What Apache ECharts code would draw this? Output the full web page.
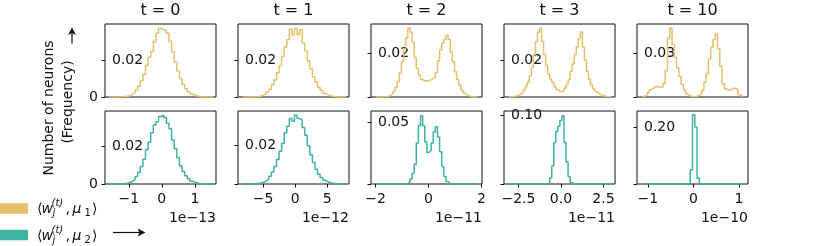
<!DOCTYPE html>
<html>
<head>
<meta charset="utf-8">
<script src="https://cdn.jsdelivr.net/npm/echarts@6/dist/echarts.min.js"></script>
<style>html,body{margin:0;padding:0;background:#fff;}#chart{width:830px;height:246px;}</style>
</head>
<body>
<div id="chart"></div>
<script>
// ---------------- data ----------------
const columnTitles = ['t = 0', 't = 1', 't = 2', 't = 3', 't = 10'];
const xExponent = ['1e\u221213', '1e\u221212', '1e\u221211', '1e\u221211', '1e\u221210'];
const xTickValues = [[-1, 0, 1], [-5, 0, 5], [-2, 0, 2], [-2.5, 0, 2.5], [-1, 0, 1]];
const xTickLabels = [['\u22121', '0', '1'], ['\u22125', '0', '5'], ['\u22122', '0', '2'], ['\u22122.5', '0.0', '2.5'], ['\u22121', '0', '1']];
const xMin = [-1.72, -8.9, -2.17, -3.35, -1.24];
const xMax = [1.64, 8.4, 2.02, 3.18, 1.2];
const binStart = [-1.6, -8.1, -1.98, -3.06, -1.12];
const binWidth = [0.079, 0.4, 0.08, 0.12, 0.05];
const topYMax = [0.0395, 0.0395, 0.0332, 0.0395, 0.0498];
const topYTick = [0.02, 0.02, 0.02, 0.02, 0.03];
const bottomYMax = [0.0384, 0.0374, 0.0589, 0.1058, 0.256];
const bottomYTick = [0.02, 0.02, 0.05, 0.10, 0.20];

// <w_j^(t), mu_1> histograms (frequency per bin)
const mu1_t0 = [0, 0, 0, 0.00005, 0.0001, 0.0002, 0.0004, 0.0007, 0.0013, 0.0023, 0.0038, 0.0058, 0.0088, 0.0122, 0.0170, 0.0215, 0.0245, 0.0300, 0.0345, 0.0370, 0.0365, 0.0358, 0.0345, 0.0300, 0.0245, 0.0190, 0.0140, 0.0100, 0.0068, 0.0044, 0.0028, 0.0016, 0.0009, 0.0005, 0.0002, 0.0001, 0.00005, 0, 0, 0];
const mu1_t1 = [0, 0, 0.00005, 0.0001, 0.00015, 0.0003, 0.0005, 0.0010, 0.0016, 0.0028, 0.0042, 0.0066, 0.0092, 0.0131, 0.0170, 0.0220, 0.0270, 0.0310, 0.0368, 0.0335, 0.0372, 0.0338, 0.0365, 0.0292, 0.0250, 0.0195, 0.0152, 0.0108, 0.0081, 0.0052, 0.0036, 0.0020, 0.0013, 0.0007, 0.0004, 0.0002, 0.0001, 0.00005, 0, 0];
const mu1_t2 = [0, 0, 0.00005, 0.0001, 0.0002, 0.0004, 0.0008, 0.0015, 0.0026, 0.0044, 0.0070, 0.0110, 0.0160, 0.0220, 0.0268, 0.0314, 0.0296, 0.0250, 0.0180, 0.0130, 0.0098, 0.0080, 0.0072, 0.0075, 0.0074, 0.0078, 0.0084, 0.0090, 0.0110, 0.0165, 0.0215, 0.0245, 0.0262, 0.0281, 0.0262, 0.0205, 0.0160, 0.0115, 0.0080, 0.0055, 0.0032, 0.0018, 0.0010, 0.0005, 0.0002, 0.0001, 0.00005, 0];
const mu1_t3 = [0.0001, 0.0002, 0.0003, 0.0006, 0.0010, 0.0017, 0.0025, 0.0038, 0.0058, 0.0080, 0.0115, 0.0160, 0.0230, 0.0300, 0.0350, 0.0373, 0.0300, 0.0230, 0.0170, 0.0125, 0.0098, 0.0078, 0.0055, 0.0040, 0.0032, 0.0028, 0.0034, 0.0048, 0.0068, 0.0095, 0.0140, 0.0180, 0.0230, 0.0272, 0.0315, 0.0352, 0.0270, 0.0200, 0.0140, 0.0095, 0.0065, 0.0045, 0.0030, 0.0020, 0.0013, 0.0008, 0.0005, 0.0003, 0.0001, 0.0001];
const mu1_t10 = [0.0005, 0.0012, 0.0030, 0.0050, 0.0063, 0.0072, 0.0070, 0.0064, 0.0068, 0.0090, 0.0180, 0.0400, 0.0470, 0.0360, 0.0270, 0.0200, 0.0140, 0.0085, 0.0050, 0.0020, 0.0008, 0.0003, 0.0002, 0.0005, 0.0012, 0.0022, 0.0045, 0.0100, 0.0160, 0.0260, 0.0340, 0.0390, 0.0430, 0.0330, 0.0210, 0.0090, 0.0055, 0.0046, 0.0050, 0.0058, 0.0060, 0.0052, 0.0015, 0.0003];

// <w_j^(t), mu_2> histograms
const mu2_t0 = [0, 0, 0, 0.00005, 0.0001, 0.0002, 0.0004, 0.0008, 0.0014, 0.0024, 0.0040, 0.0062, 0.0092, 0.0130, 0.0180, 0.0220, 0.0270, 0.0310, 0.0328, 0.0355, 0.0363, 0.0350, 0.0320, 0.0290, 0.0232, 0.0185, 0.0138, 0.0096, 0.0066, 0.0043, 0.0027, 0.0015, 0.0009, 0.0005, 0.0002, 0.0001, 0.00005, 0, 0, 0];
const mu2_t1 = [0, 0.00005, 0.00005, 0.0001, 0.0002, 0.0003, 0.0005, 0.0009, 0.0015, 0.0025, 0.0040, 0.0062, 0.0090, 0.0125, 0.0168, 0.0208, 0.0262, 0.0296, 0.0335, 0.0322, 0.0354, 0.0336, 0.0328, 0.0290, 0.0250, 0.0196, 0.0150, 0.0110, 0.0076, 0.0050, 0.0033, 0.0020, 0.0012, 0.0007, 0.0004, 0.0002, 0.0001, 0.00005, 0, 0];
const mu2_t2 = [0, 0, 0, 0, 0, 0, 0, 0, 0, 0, 0, 0, 0.00005, 0.0001, 0.0004, 0.0015, 0.0040, 0.0085, 0.0160, 0.0330, 0.0470, 0.0551, 0.0470, 0.0340, 0.0255, 0.0270, 0.0330, 0.0420, 0.0462, 0.0380, 0.0260, 0.0140, 0.0060, 0.0020, 0.0006, 0.0002, 0.00005, 0, 0, 0, 0, 0, 0, 0, 0, 0, 0, 0];
const mu2_t3 = [0, 0, 0, 0, 0, 0, 0, 0, 0, 0, 0, 0, 0, 0, 0, 0, 0, 0, 0, 0.0020, 0.0090, 0.0260, 0.0600, 0.0760, 0.0840, 0.0920, 0.0990, 0.0600, 0.0320, 0.0110, 0.0020, 0.0002, 0, 0, 0, 0, 0, 0, 0, 0, 0, 0, 0, 0, 0, 0, 0, 0, 0, 0];
const mu2_t10 = [0, 0, 0, 0, 0, 0, 0, 0, 0, 0, 0, 0, 0, 0, 0, 0, 0, 0, 0, 0, 0, 0.0500, 0.2430, 0.2000, 0.0200, 0, 0, 0, 0, 0, 0, 0, 0, 0, 0, 0, 0, 0, 0, 0, 0, 0, 0, 0];

const mu1Hists = [mu1_t0, mu1_t1, mu1_t2, mu1_t3, mu1_t10];
const mu2Hists = [mu2_t0, mu2_t1, mu2_t2, mu2_t3, mu2_t10];

// ---------------- layout / style ----------------
const FONT = 'DejaVu Sans';
const COLOR1 = '#E6C06C';
const COLOR2 = '#3FB3A3';
const colLeft = [105, 238, 371, 504, 637];
const panelW = 111, panelH = 73;
const rowTop = [24, 111];

function stepPoints(start, w, vals) {
  const pts = [[start, 0]];
  vals.forEach((v, i) => { pts.push([start + i * w, v]); pts.push([start + (i + 1) * w, v]); });
  pts.push([start + vals.length * w, 0]);
  return pts;
}
function fmtNum(v) { return v.toFixed(2); }

const grids = [], xAxes = [], yAxes = [], series = [];
for (let r = 0; r < 2; r++) {
  for (let c = 0; c < 5; c++) {
    const gi = r * 5 + c;
    grids.push({ left: colLeft[c], top: rowTop[r], width: panelW, height: panelH, show: true, borderColor: '#111', borderWidth: 1, backgroundColor: 'transparent' });
    const isBottom = r === 1;
    xAxes.push({
      gridIndex: gi, type: 'value', min: xMin[c], max: xMax[c], position: 'bottom',
      axisLine: { show: false, onZero: false }, splitLine: { show: false },
      axisTick: { show: isBottom, length: 3.5, customValues: xTickValues[c], lineStyle: { color: '#111', width: 1 } },
      axisLabel: {
        show: isBottom, customValues: xTickValues[c], margin: 8, fontFamily: FONT, fontSize: 14, color: '#111',
        formatter: (v) => { const k = xTickValues[c].findIndex(t => Math.abs(t - v) < 1e-9); return k >= 0 ? xTickLabels[c][k] : ''; }
      },
      name: isBottom ? xExponent[c] : '', nameLocation: 'end', nameGap: 0,
      nameTextStyle: { fontFamily: FONT, fontSize: 14, color: '#111', align: 'right', verticalAlign: 'top', padding: [27, 0, 0, 0] }
    });
    const ymax = isBottom ? bottomYMax[c] : topYMax[c];
    const ytick = isBottom ? bottomYTick[c] : topYTick[c];
    yAxes.push({
      gridIndex: gi, type: 'value', min: 0, max: ymax, position: 'left',
      axisLine: { show: false, onZero: false }, splitLine: { show: false },
      axisTick: { show: true, length: 3.5, customValues: [0, ytick], lineStyle: { color: '#111', width: 1 } },
      axisLabel: { inside: true, margin: 7, customValues: [ytick], formatter: fmtNum, fontFamily: FONT, fontSize: 14, color: '#111' }
    });
    const hist = isBottom ? mu2Hists[c] : mu1Hists[c];
    series.push({
      type: 'line', xAxisIndex: gi, yAxisIndex: gi, showSymbol: false, symbol: 'none', silent: true,
      data: stepPoints(binStart[c], binWidth[c], hist),
      lineStyle: { color: isBottom ? COLOR2 : COLOR1, width: 1.5 }, z: 3
    });
  }
}
// "0" labels on the first column
[0, 5].forEach(gi => {
  const ymax = gi === 0 ? topYMax[0] : bottomYMax[0];
  yAxes.push({
    gridIndex: gi, type: 'value', min: 0, max: ymax, position: 'left', offset: 0,
    axisLine: { show: false, onZero: false }, splitLine: { show: false }, axisTick: { show: false },
    axisLabel: { customValues: [0], margin: 7, formatter: () => '0', fontFamily: FONT, fontSize: 14, color: '#111' }
  });
});

const graphic = [];
columnTitles.forEach((t, c) => {
  graphic.push({ type: 'text', x: colLeft[c] + panelW / 2, y: 11, style: { text: t, align: 'center', verticalAlign: 'middle', fontFamily: FONT, fontSize: 16, fill: '#111' } });
});
graphic.push({ type: 'text', x: 49, y: 108, rotation: Math.PI / 2, style: { text: 'Number of neurons', align: 'center', verticalAlign: 'middle', fontFamily: FONT, fontSize: 14, fill: '#111' } });
graphic.push({ type: 'text', x: 68, y: 102, rotation: Math.PI / 2, style: { text: '(Frequency)', align: 'center', verticalAlign: 'middle', fontFamily: FONT, fontSize: 14, fill: '#111' } });
// up arrow
graphic.push({ type: 'line', shape: { x1: 72, y1: 43.5, x2: 72, y2: 32 }, style: { stroke: '#111', lineWidth: 1.2 } });
graphic.push({ type: 'polygon', shape: { points: [[72, 27.5], [68, 35], [72, 33], [76, 35]] }, style: { fill: '#111' } });
// right arrow
graphic.push({ type: 'line', shape: { x1: 113, y1: 232.5, x2: 141, y2: 232.5 }, style: { stroke: '#111', lineWidth: 1.2 } });
graphic.push({ type: 'polygon', shape: { points: [[145.5, 232.5], [137.5, 228.5], [139.5, 232.5], [137.5, 236.5]] }, style: { fill: '#111' } });
// legend
[[COLOR1, '1', 208.5], [COLOR2, '2', 235]].forEach(([col, idx, yc]) => {
  graphic.push({ type: 'rect', shape: { x: 0, y: yc - 5.2, width: 28, height: 10.5 }, style: { fill: col } });
  const t = (text, x, dy, size, italic) => graphic.push({ type: 'text', x: x, y: yc + dy, style: { text: text, align: 'left', verticalAlign: 'middle', fontFamily: FONT, fontSize: size, fontStyle: italic ? 'italic' : 'normal', fill: '#111' } });
  t('\u27E8', 37, 1, 14, false);
  t('w', 41.5, 1, 14, true);
  t('(t)', 51.5, -5, 10, true);
  t('j', 52.5, 5, 10, true);
  t(',', 65.5, 1, 14, false);
  t('\u03BC', 72.5, 1, 14, true);
  t(idx, 84.5, 5, 10, false);
  t('\u27E9', 92, 1, 14, false);
});

const chart = echarts.init(document.getElementById('chart'), null, { renderer: 'canvas' });
chart.setOption({
  animation: false,
  backgroundColor: '#fff',
  grid: grids, xAxis: xAxes, yAxis: yAxes, series: series, graphic: graphic
});
</script>
</body>
</html>
